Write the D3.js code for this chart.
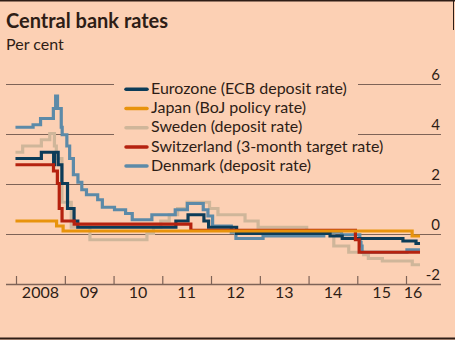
<!DOCTYPE html>
<html>
<head>
<meta charset="utf-8">
<script src="https://cdn.jsdelivr.net/npm/d3@7"></script>
<style>
  body { margin: 0; background: #fcd0b4; }
  svg { display: block; font-family: Lato, "Open Sans", sans-serif; }
</style>
</head>
<body>
<div id="chart"></div>
<script>
// step series: [date the rate took effect, rate in per cent]
var eurozone = [["2007-12-28",3.0],["2008-07-09",3.25],["2008-10-09",2.75],["2008-10-15",3.25],["2008-11-12",2.75],["2008-12-10",2.0],["2009-01-21",1.0],["2009-03-11",0.5],["2009-04-08",0.25],["2011-04-13",0.5],["2011-07-13",0.75],["2011-11-09",0.5],["2011-12-14",0.25],["2012-07-11",0.0],["2014-06-11",-0.1],["2014-09-10",-0.2],["2015-12-09",-0.3],["2016-03-16",-0.4]];
var japan = [["2007-12-28",0.5],["2008-10-31",0.3],["2008-12-19",0.1],["2016-02-16",-0.1]];
var sweden = [["2007-12-28",3.25],["2008-02-20",3.5],["2008-07-09",3.75],["2008-09-10",4.0],["2008-10-15",3.5],["2008-10-29",3.0],["2008-12-10",1.25],["2009-02-18",0.25],["2009-07-08",-0.25],["2010-09-08",0.0],["2010-10-27",0.25],["2010-12-21",0.5],["2011-02-22",0.75],["2011-04-26",1.0],["2011-07-06",1.25],["2011-12-21",1.0],["2012-02-22",0.75],["2012-09-12",0.5],["2012-12-19",0.25],["2013-12-18",0.0],["2014-07-09",-0.5],["2014-10-29",-0.75],["2015-02-18",-0.85],["2015-03-25",-1.0],["2015-07-08",-1.1],["2016-02-17",-1.25]];
var switzerland = [["2007-12-28",2.75],["2008-10-08",2.5],["2008-11-06",2.0],["2008-11-20",1.0],["2008-12-11",0.5],["2009-03-12",0.375],["2011-08-03",0.125],["2014-12-18",-0.25],["2015-01-15",-0.75]];
var denmark = [["2007-12-28",4.25],["2008-05-08",4.35],["2008-07-03",4.6],["2008-10-07",5.0],["2008-10-24",5.5],["2008-11-07",5.0],["2008-12-05",4.25],["2008-12-12",3.95],["2009-01-16",3.5],["2009-02-06",3.0],["2009-03-06",2.35],["2009-04-09",2.05],["2009-05-08",1.75],["2009-06-12",1.55],["2009-09-04",1.35],["2009-10-09",1.05],["2010-01-08",0.95],["2010-04-01",0.8],["2010-05-21",0.55],["2010-10-15",0.75],["2011-04-08",0.95],["2011-07-08",1.2],["2011-11-04",0.95],["2011-12-09",0.7],["2012-01-13",0.3],["2012-06-01",0.05],["2012-07-06",-0.2],["2013-01-25",-0.1],["2014-04-25",0.05],["2014-09-05",-0.05],["2015-01-20",-0.2],["2015-01-22",-0.35],["2015-01-29",-0.5],["2015-02-06",-0.75],["2016-01-08",-0.65]];
var endDate = "2016-04-15";

var seriesNames = ["Eurozone (ECB deposit rate)","Japan (BoJ policy rate)","Sweden (deposit rate)","Switzerland (3-month target rate)","Denmark (deposit rate)"];
var yTicks = [6,4,2,0,-2];
var yearTicks = ["2008","2009","2010","2011","2012","2013","2014","2015","2016"];
var yearLabels = ["2008","09","10","11","12","13","14","15","16"];

var settings = {
  width: 455,
  height: 340,
  bg: "#fcd0b4",
  ink: "#2e1d16",
  grid: "#7e6357",
  colors: ["#0c3c58","#e8930c","#cfb69a","#b5220f","#5c8aa8"],
  drawOrder: [2,4,0,3,1]
};

var parse = d3.timeParse("%Y-%m-%d");
var parseYear = d3.timeParse("%Y");

var series = [eurozone, japan, sweden, switzerland, denmark].map(function(s, i){
  var pts = s.map(function(d){ return {date: parse(d[0]), value: d[1]}; });
  pts.push({date: parse(endDate), value: s[s.length - 1][1]});
  return {name: seriesNames[i], color: settings.colors[i], values: pts};
});

var x = d3.scaleTime()
  .domain([parseYear("2008"), parseYear("2016")])
  .range([16, 406]);
var y = d3.scaleLinear()
  .domain([-2, 6])
  .range([283.5, 83.5]);

var svg = d3.select("#chart").append("svg")
  .attr("width", settings.width)
  .attr("height", settings.height);

svg.append("rect")
  .attr("width", settings.width)
  .attr("height", settings.height)
  .attr("fill", settings.bg);

// frame bits
svg.append("line").attr("x1",0).attr("x2",settings.width).attr("y1",0.75).attr("y2",0.75)
  .attr("stroke", settings.ink).attr("stroke-width",1.5);
svg.append("line").attr("x1",0).attr("x2",settings.width).attr("y1",338.5).attr("y2",338.5)
  .attr("stroke", settings.ink).attr("stroke-width",2);
svg.append("line").attr("x1",453.5).attr("x2",453.5).attr("y1",0).attr("y2",30)
  .attr("stroke", settings.ink).attr("stroke-width",1);

svg.append("text")
  .attr("x", 6).attr("y", 27.5)
  .attr("fill", settings.ink)
  .attr("font-size", 20).attr("font-weight", "bold")
  .text("Central bank rates");
svg.append("text")
  .attr("x", 6).attr("y", 49.5)
  .attr("fill", settings.ink)
  .attr("font-size", 16)
  .text("Per cent");

// horizontal grid + right-hand labels
svg.append("g").selectAll("line")
  .data(yTicks.slice(0, 4))
  .enter().append("line")
  .attr("x1", 6).attr("x2", 441)
  .attr("y1", function(d){ return Math.round(y(d)) + 0.5; })
  .attr("y2", function(d){ return Math.round(y(d)) + 0.5; })
  .attr("stroke", settings.grid)
  .attr("stroke-width", 1.2);

svg.append("g").selectAll("text")
  .data(yTicks)
  .enter().append("text")
  .attr("x", 440)
  .attr("y", function(d){ return y(d) - 3.5; })
  .attr("text-anchor", "end")
  .attr("fill", settings.ink)
  .attr("font-size", 15)
  .text(function(d){ return d; });

// x axis: ticks point up from the baseline at -2
var xAxis = svg.append("g")
  .attr("transform", "translate(0," + Math.round(y(-2)) + ")")
  .call(d3.axisBottom(x)
    .tickValues(yearTicks.map(function(d){ return parseYear(d); }))
    .tickSize(-8)
    .tickFormat(""));
xAxis.select(".domain").remove();
xAxis.selectAll(".tick line").attr("stroke", settings.grid).attr("stroke-width", 1.2);
svg.append("line")
  .attr("x1", 6).attr("x2", 441)
  .attr("y1", Math.round(y(-2)) + 0.5).attr("y2", Math.round(y(-2)) + 0.5)
  .attr("stroke", settings.grid).attr("stroke-width", 1.4);

svg.append("g").selectAll("text")
  .data(yearTicks)
  .enter().append("text")
  .attr("x", function(d, i){
    var a = parseYear(d);
    var b = i < yearTicks.length - 1 ? parseYear(String(+d + 1)) : parse(endDate);
    return (x(a) + x(b)) / 2;
  })
  .attr("y", 298)
  .attr("text-anchor", "middle")
  .attr("fill", settings.ink)
  .attr("font-size", 16)
  .text(function(d, i){ return yearLabels[i]; });

// legend box masks the top grid lines
svg.append("rect")
  .attr("x", 114).attr("y", 76)
  .attr("width", 244).attr("height", 98)
  .attr("fill", settings.bg);

var line = d3.line()
  .curve(d3.curveStepAfter)
  .x(function(d){ return x(d.date); })
  .y(function(d){ return y(d.value); });

svg.append("g").selectAll("path")
  .data(settings.drawOrder.map(function(i){ return series[i]; }))
  .enter().append("path")
  .attr("d", function(d){ return line(d.values); })
  .attr("fill", "none")
  .attr("stroke", function(d){ return d.color; })
  .attr("stroke-width", 3.2);

var legend = svg.append("g").selectAll("g")
  .data(series)
  .enter().append("g")
  .attr("transform", function(d, i){ return "translate(0," + (94 + i * 19.2) + ")"; });
legend.append("line")
  .attr("x1", 126).attr("x2", 147)
  .attr("y1", -4.7).attr("y2", -4.7)
  .attr("stroke", function(d){ return d.color; })
  .attr("stroke-width", 3.5)
  .attr("stroke-linecap", "round");
legend.append("text")
  .attr("x", 151)
  .attr("fill", settings.ink)
  .attr("font-size", 16)
  .text(function(d){ return d.name; });
</script>
</body>
</html>
